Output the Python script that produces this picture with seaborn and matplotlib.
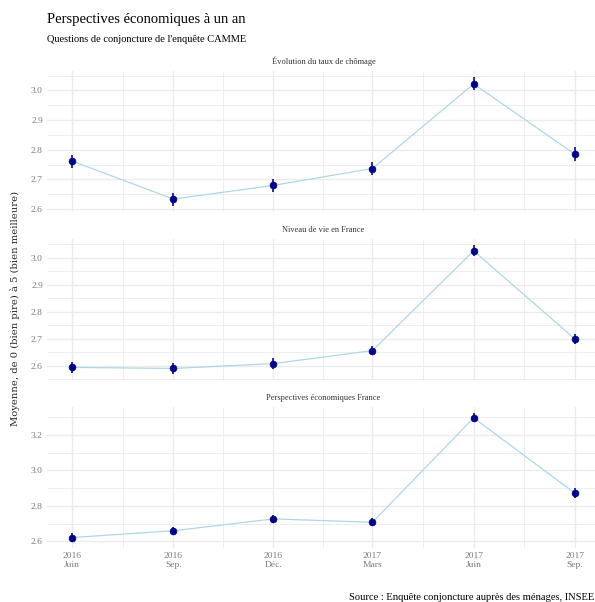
import matplotlib
matplotlib.use("Agg")
import matplotlib.pyplot as plt
import matplotlib.dates as mdates
from matplotlib.ticker import MultipleLocator, FixedLocator
import seaborn as sns
import pandas as pd
import numpy as np

# ---- data ----
dates = ["2016-06-01", "2016-09-01", "2016-12-01", "2017-03-01", "2017-06-01", "2017-09-01"]
years = ["2016", "2016", "2016", "2017", "2017", "2017"]
months = ["Juin", "Sep.", "Déc.", "Mars", "Juin", "Sep."]
panels = ["Évolution du taux de chômage", "Niveau de vie en France", "Perspectives économiques France"]
chomage = [2.762, 2.634, 2.680, 2.737, 3.022, 2.785]
niveau_vie = [2.594, 2.590, 2.608, 2.656, 3.025, 2.699]
perspectives = [2.622, 2.660, 2.727, 2.708, 3.297, 2.872]
err_chomage = [0.022, 0.022, 0.022, 0.021, 0.022, 0.023]
err_niveau_vie = [0.019, 0.019, 0.019, 0.018, 0.020, 0.020]
err_perspectives = [0.023, 0.023, 0.023, 0.022, 0.025, 0.027]
major_steps = [0.1, 0.1, 0.2]

title = "Perspectives économiques à un an"
subtitle = "Questions de conjoncture de l'enquête CAMME"
ylabel = "Moyenne, de 0 (bien pire) à 5 (bien meilleure)"
caption = "Source : Enquête conjoncture auprès des ménages, INSEE"

values = [chomage, niveau_vie, perspectives]
errors = [err_chomage, err_niveau_vie, err_perspectives]

sns.set_theme(style="white")
plt.rcParams['font.family'] = ['Liberation Serif', 'DejaVu Serif']

W, H = 595, 602
fig = plt.figure(figsize=(W / 100, H / 100), dpi=100)
fig.patch.set_facecolor("white")

xd = pd.to_datetime(pd.Series(dates))
xnum = mdates.date2num(xd)
mids = (xnum[:-1] + xnum[1:]) / 2

panel_px = [(71, 212), (239, 380), (407, 548)]
left_px, right_px = 47, 600
grid_col = "#EBEBEB"
tick_col = "#7a7a7a"

for i, (name, vals, errs, step) in enumerate(zip(panels, values, errors, major_steps)):
    top, bot = panel_px[i]
    ax = fig.add_axes([left_px / W, 1 - bot / H, (right_px - left_px) / W, (bot - top) / H])
    df = pd.DataFrame({"date": xd, "val": vals, "err": errs})
    sns.lineplot(data=df, x="date", y="val", ax=ax, color="#ADD8E6", lw=0.9, zorder=2)
    ax.errorbar(df["date"], df["val"], yerr=df["err"], fmt="none",
                ecolor="#2a2aa0", elinewidth=1.4, capsize=0, zorder=3)
    sns.scatterplot(data=df, x="date", y="val", ax=ax, color="#00008B",
                    s=24, edgecolor="#00008B", linewidth=0.5, zorder=4)
    ax.margins(x=0.05, y=0.05)
    ax.yaxis.set_major_locator(MultipleLocator(step))
    ax.yaxis.set_minor_locator(MultipleLocator(step / 2))
    ax.xaxis.set_major_locator(FixedLocator(xnum))
    ax.xaxis.set_minor_locator(FixedLocator(mids))
    ax.grid(which="major", color=grid_col, lw=1.0)
    ax.grid(which="minor", color=grid_col, lw=0.6)
    ax.set_axisbelow(True)
    for s in ax.spines.values():
        s.set_visible(False)
    ax.tick_params(which="both", length=0, labelsize=6.8, labelcolor=tick_col, pad=3)
    ax.yaxis.set_major_formatter(matplotlib.ticker.FuncFormatter(lambda v, p: f"{v:.1f}"))
    ax.set_xlabel("")
    ax.set_ylabel("")
    if i == 2:
        ax.set_xticklabels([f"{y}\n{m}" for y, m in zip(years, months)])
    else:
        ax.set_xticklabels([])
    ax.set_title(name, fontsize=6, color="#333333", pad=5)

fig.text(47 / W, 1 - 20 / H, title, fontsize=10.5, color="black", va="center", ha="left")
fig.text(47 / W, 1 - 39 / H, subtitle, fontsize=7.5, color="black", va="center", ha="left")
fig.text(15 / W, 1 - 308 / H, ylabel, fontsize=7.2, rotation=90, va="center", ha="center",
         family=['DejaVu Serif'])
fig.text(594 / W, 1 - 597 / H, caption, fontsize=7.6, ha="right", va="center", color="black")

fig.savefig("out.png", dpi=100)
